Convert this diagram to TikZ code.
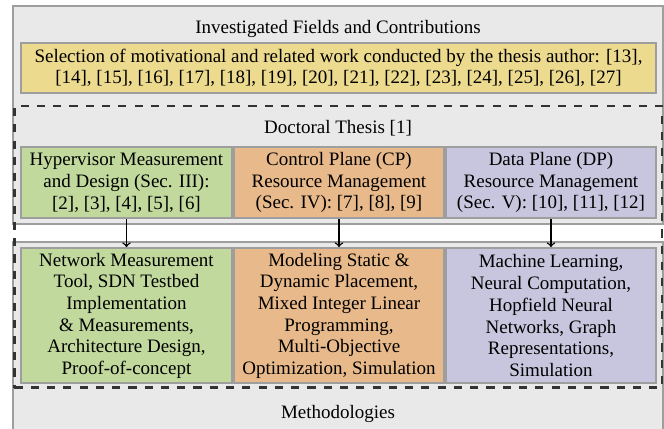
\documentclass[tikz,border=0pt]{standalone}
\usepackage{fontspec}
\setmainfont{Liberation Serif}
\usetikzlibrary{positioning}

\definecolor{panelgray}{RGB}{233,233,233}
\definecolor{rimgray}{RGB}{158,158,158}
\definecolor{relyellow}{RGB}{236,218,142}
\definecolor{hvgreen}{RGB}{193,217,157}
\definecolor{cporange}{RGB}{232,185,138}
\definecolor{dppurple}{RGB}{199,198,222}

\tikzset{
  panel/.style={draw=rimgray, fill=panelgray, line width=1.1pt, minimum width=358.9pt},
  field/.style={draw=rimgray, line width=1.1pt, align=center, inner sep=1pt, minimum width=116.1pt},
  thesisframe/.style={draw=black!80, line width=1.3pt, dash pattern=on 4.5pt off 4.5pt,
    minimum width=358.1pt, minimum height=155.7pt},
  title/.style={inner sep=1pt}
}

\begin{document}
\begin{tikzpicture}[x=0.553pt,y=-0.553pt,font=\fontsize{10.5}{12}\selectfont]
\useasboundingbox (0,0) rectangle (664,429);
\node[panel, minimum height=120.6pt] (fields) at (338,115) {};
\node[panel, minimum height=109.5pt] (methods) at (338,341) {};
\node[thesisframe] (thesis) at (338.25,246.75) {};
\node[title] (fieldstitle) at (338,28.5) {Investigated Fields and Contributions};
\node[title] (thesistitle) at (338,128) {Doctoral Thesis [1]};
\node[title] (methodstitle) at (338,414) {Methodologies};
\node[field, fill=relyellow, minimum width=351.2pt, minimum height=27.4pt] (related) at (338.5,67.75)
  {Selection of motivational and related work conducted by the thesis author: [13],\\
   {}[14], [15], [16], [17], [18], [19], [20], [21], [22], [23], [24], [25], [26], [27]};
\node[field, fill=hvgreen, minimum width=116.7pt, minimum height=39.3pt] (hyper) at (126.5,182.5)
  {Hypervisor Measurement\\and Design (Sec. III):\\{}[2], [3], [4], [5], [6]};
\node[field, fill=cporange, minimum height=39.3pt] (cp) at (339,182.5)
  {Control Plane (CP)\\Resource Management\\(Sec. IV): [7], [8], [9]};
\node[field, fill=dppurple, minimum height=39.3pt] (dp) at (551,182.5)
  {Data Plane (DP)\\Resource Management\\(Sec. V): [10], [11], [12]};
\node[field, fill=hvgreen, minimum width=116.7pt, minimum height=74.9pt] (hypermeth) at (126.5,315.75)
  {Network Measurement\\Tool, SDN Testbed\\Implementation\\\& Measurements,\\Architecture Design,\\Proof-of-concept};
\node[field, fill=cporange, minimum height=74.9pt] (cpmeth) at (339,315.75)
  {Modeling Static \&\\Dynamic Placement,\\Mixed Integer Linear\\Programming,\\Multi-Objective\\Optimization, Simulation};
\node[field, fill=dppurple, minimum height=74.9pt] (dpmeth) at (551,315.75)
  {Machine Learning,\\Neural Computation,\\Hopfield Neural\\Networks, Graph\\Representations,\\Simulation};
\draw[->, line width=0.8pt] (hyper) -- (hypermeth);
\draw[->, line width=0.8pt] (cp) -- (cpmeth);
\draw[->, line width=0.8pt] (dp) -- (dpmeth);
\end{tikzpicture}
\end{document}
